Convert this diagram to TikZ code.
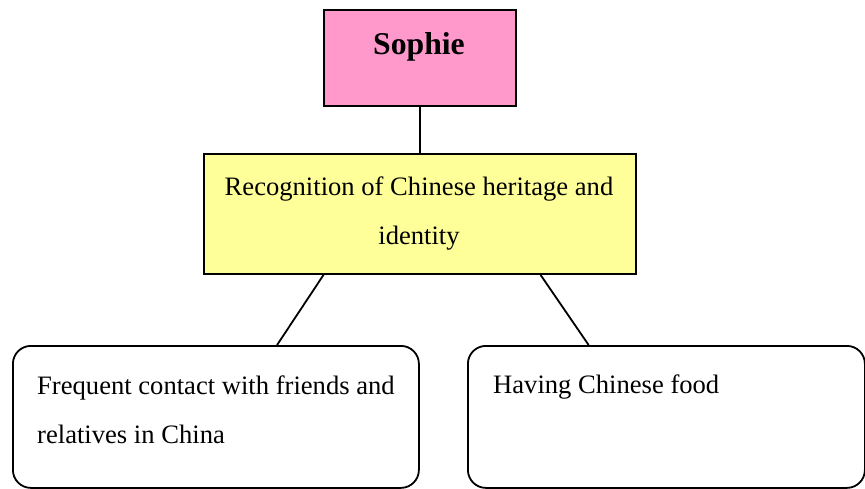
\documentclass[tikz,border=0pt]{standalone}
\usepackage{fontspec}
\setmainfont{Liberation Serif}
\usetikzlibrary{calc}

\definecolor{pinkfill}{HTML}{FF99CC}
\definecolor{yellowfill}{HTML}{FFFF99}

\tikzset{
  box/.style={draw=black, line width=1.8pt, inner sep=0pt, anchor=north west},
  roundbox/.style={box, fill=white, rounded corners=18pt},
  link/.style={draw=black, line width=1.8pt},
  bodytext/.style={font=\fontsize{26.6}{49}\selectfont, inner sep=0pt},
}

\begin{document}
\begin{tikzpicture}[x=1pt, y=-1pt]
  \useasboundingbox (0,0) rectangle (865,489);

  % boxes
  \node[box, fill=pinkfill, minimum width=192pt, minimum height=96pt] (sophie) at (323,9) {};
  \node[box, fill=yellowfill, minimum width=432pt, minimum height=120pt] (recog) at (203,153) {};
  \node[roundbox, minimum width=406pt, minimum height=142pt] (contact) at (12,345) {};
  \node[roundbox, minimum width=397pt, minimum height=142pt] (food) at (467,345) {};

  % texts (base anchor of a multi-line node sits on its last line)
  \node[inner sep=0pt, anchor=base, font=\fontsize{31.7}{38}\selectfont\bfseries] (sophietxt) at (419,55) {Sophie};
  \node[bodytext, anchor=base, align=center] (recogtxt) at (419,245)
    {Recognition of Chinese heritage and\\identity};
  \node[bodytext, anchor=base west, align=left] (contacttxt) at (37,443)
    {Frequent contact with friends and\\relatives in China};
  \node[bodytext, anchor=base west, align=left] (foodtxt) at (493,393)
    {Having Chinese food};

  % connectors
  \draw[link] (sophie.south) -- (recog.north);
  \draw[link] ($(recog.south west)!0.278!(recog.south east)$) -- ($(contact.north west)!0.650!(contact.north east)$);
  \draw[link] ($(recog.south west)!0.778!(recog.south east)$) -- ($(food.north west)!0.305!(food.north east)$);
\end{tikzpicture}
\end{document}
